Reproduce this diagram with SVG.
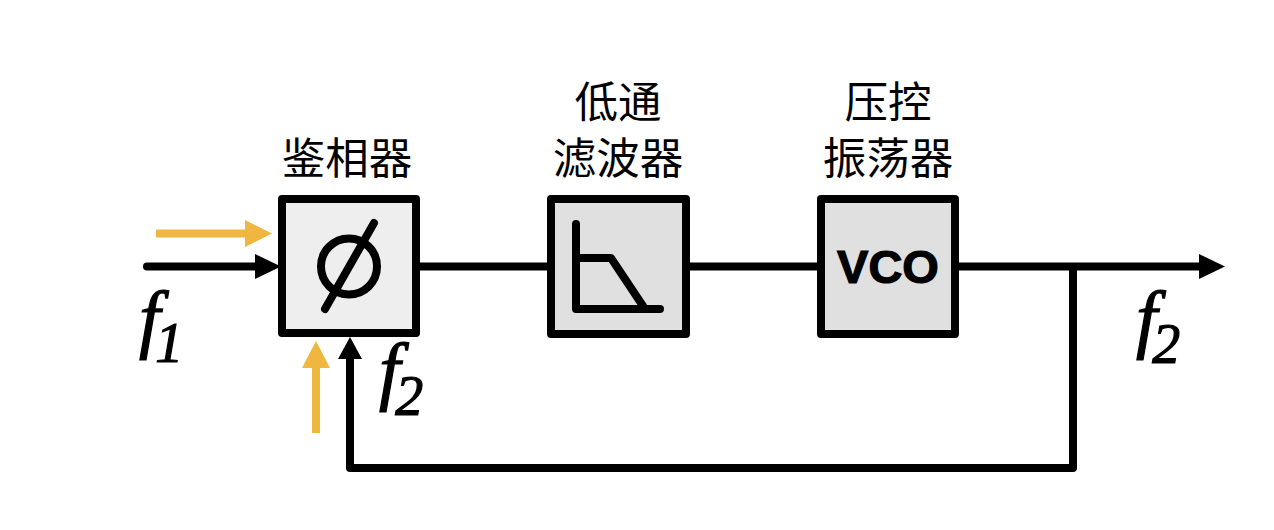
<svg xmlns="http://www.w3.org/2000/svg" width="1274" height="530" viewBox="0 0 1274 530">
  <style>
    .box { stroke: #000; stroke-width: 8; stroke-linejoin: round; }
    .wire { fill: none; stroke: #000; stroke-width: 8; }
    .accent { fill: none; stroke: #f0b740; stroke-width: 8; }
    .glyph { fill: none; stroke: #000; stroke-width: 8; stroke-linecap: round; stroke-linejoin: round; }
    .cjk { font-family: "Noto Sans CJK SC", "Noto Sans", sans-serif; font-size: 43.500px; fill: #000; text-anchor: middle; }
    .sym { font-family: "Liberation Serif", serif; font-style: italic; fill: #000; stroke: #000; stroke-width: 1.200; }
    .vco { font-family: "Liberation Sans", Arial, sans-serif; font-weight: 700; font-size: 47px; fill: #000; stroke: #000; stroke-width: 1.200; text-anchor: middle; }
  </style>
  <rect width="1274" height="530" fill="#fff"/>

  <g id="connectors">
    <path class="wire" stroke-linecap="round" d="M147 266.500H260"/>
    <path d="M255 254L281 266.500L255 279Z" fill="#000"/>
    <path class="wire" d="M420 266.500H547"/>
    <path class="wire" d="M690 266.500H817"/>
    <path class="wire" d="M959 266.500H1202"/>
    <path d="M1199 254L1225 266.500L1199 279Z" fill="#000"/>
    <path class="wire" stroke-linejoin="round" d="M1073 266.500V468H350V356"/>
    <path d="M338 359L350 337L362 359Z" fill="#000"/>
    <path class="accent" d="M156 233.500H250"/>
    <path d="M245 220L272 233.500L245 247Z" fill="#f0b740"/>
    <path class="accent" d="M316 433V365"/>
    <path d="M302 368L316 341L330 368Z" fill="#f0b740"/>
  </g>

  <g id="phase-detector">
    <rect class="box" x="282" y="199" width="134" height="134" fill="#eee"/>
    <circle class="glyph" cx="349" cy="266.500" r="28"/>
    <path class="glyph" d="M374 223L325 309"/>
    <text class="cjk" x="347" y="174">鉴相器</text>
  </g>

  <g id="low-pass-filter">
    <rect class="box" x="551" y="199" width="135" height="135" fill="#e0e0e0"/>
    <path class="glyph" d="M576 224V309H660M576 258H611L643 306"/>
    <text class="cjk" x="618" y="118">低通</text>
    <text class="cjk" x="618" y="174">滤波器</text>
  </g>

  <g id="vco">
    <rect class="box" x="821" y="199" width="134" height="135" fill="#e0e0e0"/>
    <text class="vco" x="888" y="283">VCO</text>
    <text class="cjk" x="888" y="118">压控</text>
    <text class="cjk" x="888" y="174">振荡器</text>
  </g>

  <g id="frequency-labels">
    <text class="sym" x="139" y="344" font-size="76">f<tspan font-size="56" dx="-5" dy="18">1</tspan></text>
    <text class="sym" x="379" y="396" font-size="76">f<tspan font-size="56" dx="-5" dy="19">2</tspan></text>
    <text class="sym" x="1136" y="344" font-size="76">f<tspan font-size="56" dx="-5" dy="19">2</tspan></text>
  </g>
</svg>
